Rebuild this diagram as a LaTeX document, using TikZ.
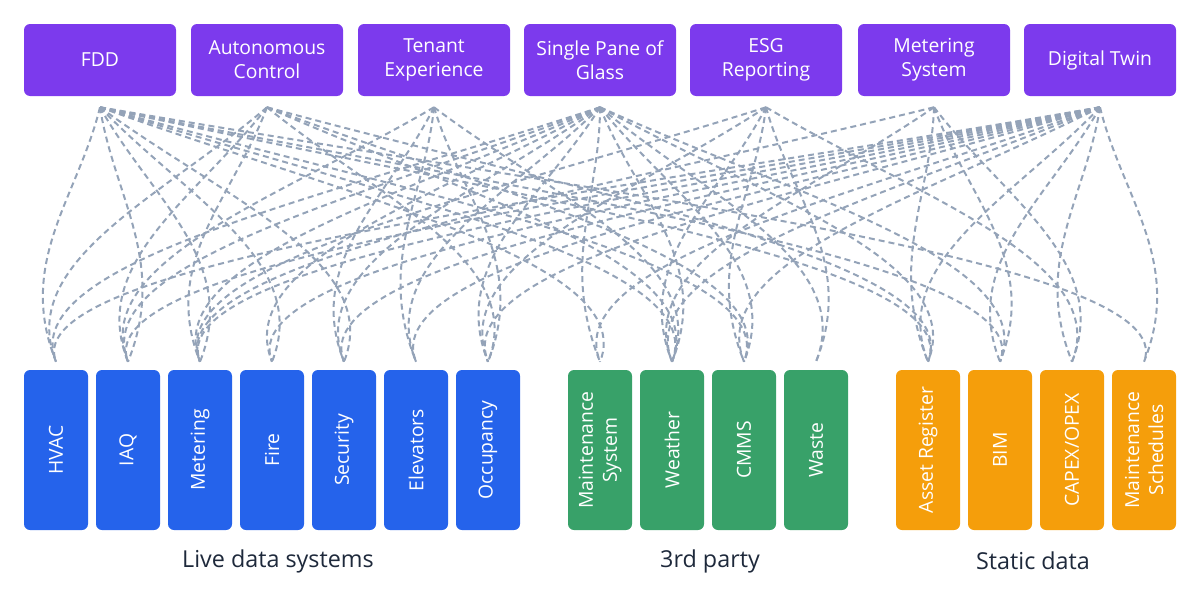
\documentclass[tikz,border=0pt]{standalone}
\usepackage{fontspec}
\setmainfont{Open Sans}
\usetikzlibrary{calc}

\definecolor{appcol}{HTML}{7C3AED}
\definecolor{livecol}{HTML}{2563EB}
\definecolor{partycol}{HTML}{38A169}
\definecolor{staticcol}{HTML}{F59E0B}
\definecolor{linkcol}{HTML}{94A3B8}
\definecolor{textcol}{HTML}{1E293B}

\begin{document}
\begin{tikzpicture}[x=0.75pt, y=-0.75pt,
	app/.style={fill=appcol, text=white, rounded corners=4.5pt, minimum width=114pt, minimum height=54pt, inner sep=0pt, align=center, font=\fontsize{14.5}{18}\selectfont},
	src/.style={text=white, rounded corners=4.5pt, rotate=90, minimum width=120pt, minimum height=48pt, inner sep=0pt, align=center, font=\fontsize{14.5}{18}\selectfont},
	grp/.style={text=textcol, font=\fontsize{17.5}{21}\selectfont},
	link/.style={linkcol, line width=1.5pt, dash pattern=on 4.5pt off 3pt}]
	% canvas
	\useasboundingbox (0,0) rectangle (1200,596);
	
	% applications
	\foreach \nm/\px/\txt in {fdd/100/FDD, auto/267/{Autonomous\\Control}, tenant/434/{Tenant\\Experience}, spog/600/{Single Pane of\\Glass}, esg/766/{ESG\\Reporting}, msys/934/{Metering\\System}, twin/1100/{Digital Twin}}{
		\node[app] (\nm) at (\px,60) {\txt};
		\coordinate (\nm-o) at ([yshift=-8.25pt]\nm.south);
	}
	
	% data sources
	\foreach \nm/\px/\col/\txt in {hvac/56/livecol/HVAC, iaq/128/livecol/IAQ, meter/200/livecol/Metering, fire/272/livecol/Fire, sec/344/livecol/Security, elev/416/livecol/Elevators, occ/488/livecol/Occupancy,
		maint/600/partycol/{Maintenance\\System}, weather/672/partycol/Weather, cmms/744/partycol/CMMS, waste/816/partycol/Waste,
		asset/928/staticcol/{Asset Register}, bim/1000/staticcol/BIM, capex/1072/staticcol/{CAPEX/OPEX}, sched/1144/staticcol/{Maintenance\\Schedules}}{
		\node[src, fill=\col] (\nm) at (\px,450) {\txt};
		\coordinate (\nm-i) at ([yshift=6pt]\nm.east);
	}
	
	% groups
	\node[grp] (live) at (278,561) {Live data systems};
	\node[grp] (party) at (710,561) {3rd party};
	\node[grp] (static) at (1033,561) {Static data};
	
	% links
	\foreach \s/\t in {fdd/hvac, fdd/iaq, fdd/meter, fdd/fire, fdd/sec, fdd/maint, fdd/weather, fdd/cmms, fdd/asset, fdd/bim, fdd/sched,
		auto/hvac, auto/iaq, auto/meter, auto/occ, auto/weather, auto/cmms, auto/asset,
		tenant/iaq, tenant/sec, tenant/elev, tenant/occ, tenant/weather,
		spog/hvac, spog/iaq, spog/meter, spog/fire, spog/sec, spog/elev, spog/occ, spog/maint, spog/weather, spog/cmms, spog/waste, spog/asset, spog/bim,
		esg/meter, esg/occ, esg/weather, esg/cmms, esg/waste, esg/capex,
		msys/meter, msys/weather, msys/asset, msys/bim, msys/capex,
		twin/hvac, twin/iaq, twin/meter, twin/fire, twin/sec, twin/elev, twin/occ, twin/maint, twin/weather, twin/cmms, twin/asset, twin/bim, twin/capex, twin/sched}
		\draw[link] let \p1=(\s-o), \p2=(\t-i), \n1={(\x2>\x1)*2-1} in
			(\p1) .. controls +({0.5*(\x2-\x1)},-67.5pt) and +({30pt*(\n1)},75pt) .. (\p2);
\end{tikzpicture}
\end{document}
